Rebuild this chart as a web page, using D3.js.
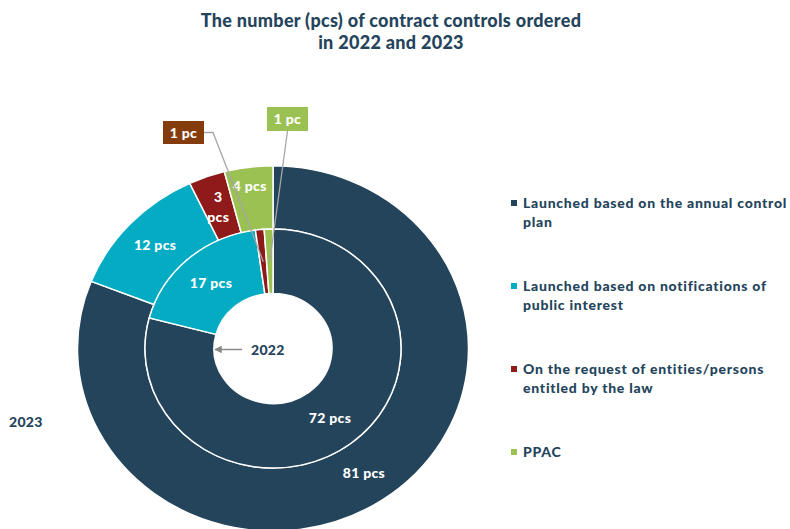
<!DOCTYPE html>
<html>
<head>
<meta charset="utf-8">
<script src="https://cdn.jsdelivr.net/npm/d3@7"></script>
<style>
  body { margin: 0; background: #fff; }
  text { font-family: Lato, "Open Sans", sans-serif; font-weight: 900; letter-spacing: 0.3px; }
  .legend text { letter-spacing: 0.75px; }
</style>
</head>
<body>
<div id="chart"></div>
<script>
var categories = [
    'Launched based on the annual control plan',
    'Launched based on notifications of public interest',
    'On the request of entities/persons entitled by the law',
    'PPAC'
];
var legendLines = [
    ['Launched based on the annual control', 'plan'],
    ['Launched based on notifications of', 'public interest'],
    ['On the request of entities/persons', 'entitled by the law'],
    ['PPAC']
];
var values2022 = [72, 17, 1, 1];
var values2023 = [81, 12, 3, 4];
var colors = ['#24445c', '#03acc3', '#8e1a1a', '#9bc153'];

var width = 790,
    height = 529,
    cx = 273,
    cy = 348.5,
    squash = 0.934; // chart is stretched wider than tall

var navy = '#24445c';

var svg = d3.select('#chart')
    .append('svg')
    .attr('width', width)
    .attr('height', height);

// title
var title = svg.append('text')
    .attr('x', 391)
    .attr('y', 27)
    .attr('text-anchor', 'middle')
    .attr('fill', navy)
    .style('font-size', '18px');
title.append('tspan').attr('x', 391).text('The number (pcs) of contract controls ordered');
title.append('tspan').attr('x', 391).attr('dy', 22).text('in 2022 and 2023');

var pie = d3.pie()
    .sort(null)
    .value(function(d) { return d; });

var innerArc = d3.arc().innerRadius(59).outerRadius(128);
var outerArc = d3.arc().innerRadius(128).outerRadius(195.5);

var rings = svg.append('g')
    .attr('transform', 'translate(' + cx + ',' + cy + ') scale(1,' + squash + ')');

rings.selectAll('path.outer')
    .data(pie(values2023))
    .enter()
    .append('path')
    .attr('class', 'outer')
    .attr('d', outerArc)
    .attr('fill', function(d, i) { return colors[i]; })
    .attr('stroke', '#fff')
    .attr('stroke-width', 1.5);

rings.selectAll('path.inner')
    .data(pie(values2022))
    .enter()
    .append('path')
    .attr('class', 'inner')
    .attr('d', innerArc)
    .attr('fill', function(d, i) { return colors[i]; })
    .attr('stroke', '#fff')
    .attr('stroke-width', 1.5);

function place(p) {
    return [cx + p[0], cy + p[1] * squash];
}

function pcs(v) { return v + (v === 1 ? ' pc' : ' pcs'); }

var labels = svg.append('g');

// outer ring labels
pie(values2023).forEach(function(d, i) {
    var p = place(outerArc.centroid(d));
    var t = labels.append('text')
        .attr('text-anchor', 'middle')
        .attr('fill', '#fff')
        .style('font-size', '14px');
    if (d.data === 3) {
        t.append('tspan').attr('x', p[0]).attr('y', p[1] - 4).text(d.data);
        t.append('tspan').attr('x', p[0]).attr('y', p[1] + 16).text('pcs');
    } else if (d.data === 4) {
        t.attr('x', p[0] - 3).attr('y', p[1] - 8).text(pcs(d.data));
    } else {
        t.attr('x', p[0]).attr('y', p[1] + 5).text(pcs(d.data));
    }
});

// inner ring labels, callouts for the tiny slices
var callouts = [null, null, {x: 163, y: 121, w: 41, h: 23, fill: '#843c0c', side: 'right'},
                {x: 267, y: 107, w: 41, h: 24, fill: '#9bc153', side: 'bottom'}];

pie(values2022).forEach(function(d, i) {
    var p = place(innerArc.centroid(d));
    var c = callouts[i];
    if (!c) {
        labels.append('text')
            .attr('x', p[0])
            .attr('y', p[1] + 5)
            .attr('text-anchor', 'middle')
            .attr('fill', '#fff')
            .style('font-size', '14px')
            .text(pcs(d.data));
        return;
    }
    var line = c.side === 'right'
        ? [[c.x + c.w, c.y + c.h / 2], [c.x + c.w + 9, c.y + c.h / 2], p]
        : [[c.x + c.w / 2, c.y + c.h], p];
    labels.append('path')
        .attr('d', d3.line()(line))
        .attr('fill', 'none')
        .attr('stroke', '#a6a6a6')
        .attr('stroke-width', 1.3);
    labels.append('rect')
        .attr('x', c.x).attr('y', c.y)
        .attr('width', c.w).attr('height', c.h)
        .attr('fill', c.fill);
    labels.append('text')
        .attr('x', c.x + c.w / 2)
        .attr('y', c.y + c.h / 2 + 5)
        .attr('text-anchor', 'middle')
        .attr('fill', '#fff')
        .style('font-size', '14px')
        .text(pcs(d.data));
});

// year labels
svg.append('defs').append('marker')
    .attr('id', 'arrow')
    .attr('viewBox', '0 0 10 10')
    .attr('refX', 9).attr('refY', 5)
    .attr('markerWidth', 5).attr('markerHeight', 5)
    .attr('orient', 'auto')
    .append('path')
    .attr('d', 'M0,0L10,5L0,10z')
    .attr('fill', '#888');

svg.append('line')
    .attr('x1', cx - 31).attr('y1', cy + 1)
    .attr('x2', cx - 58).attr('y2', cy + 1)
    .attr('stroke', '#888')
    .attr('stroke-width', 1.5)
    .attr('marker-end', 'url(#arrow)');

svg.append('text')
    .attr('x', 251).attr('y', cy + 6)
    .attr('fill', navy)
    .style('font-size', '14px')
    .text('2022');

svg.append('text')
    .attr('x', 9).attr('y', 427)
    .attr('fill', navy)
    .style('font-size', '14px')
    .text('2023');

// legend
var legend = svg.selectAll('g.legend')
    .data(categories)
    .enter()
    .append('g')
    .attr('class', 'legend')
    .attr('transform', function(d, i) { return 'translate(511,' + (198 + i * 83) + ')'; });

legend.append('rect')
    .attr('width', 6).attr('height', 6)
    .attr('y', 2)
    .attr('fill', function(d, i) { return colors[i]; });

legend.append('text')
    .attr('x', 12)
    .attr('y', 10)
    .attr('fill', navy)
    .style('font-size', '14px')
    .each(function(d, i) {
        var t = d3.select(this);
        legendLines[i].forEach(function(s, j) {
            t.append('tspan').attr('x', 12).attr('dy', j ? 19 : 0).text(s);
        });
    });
</script>
</body>
</html>
